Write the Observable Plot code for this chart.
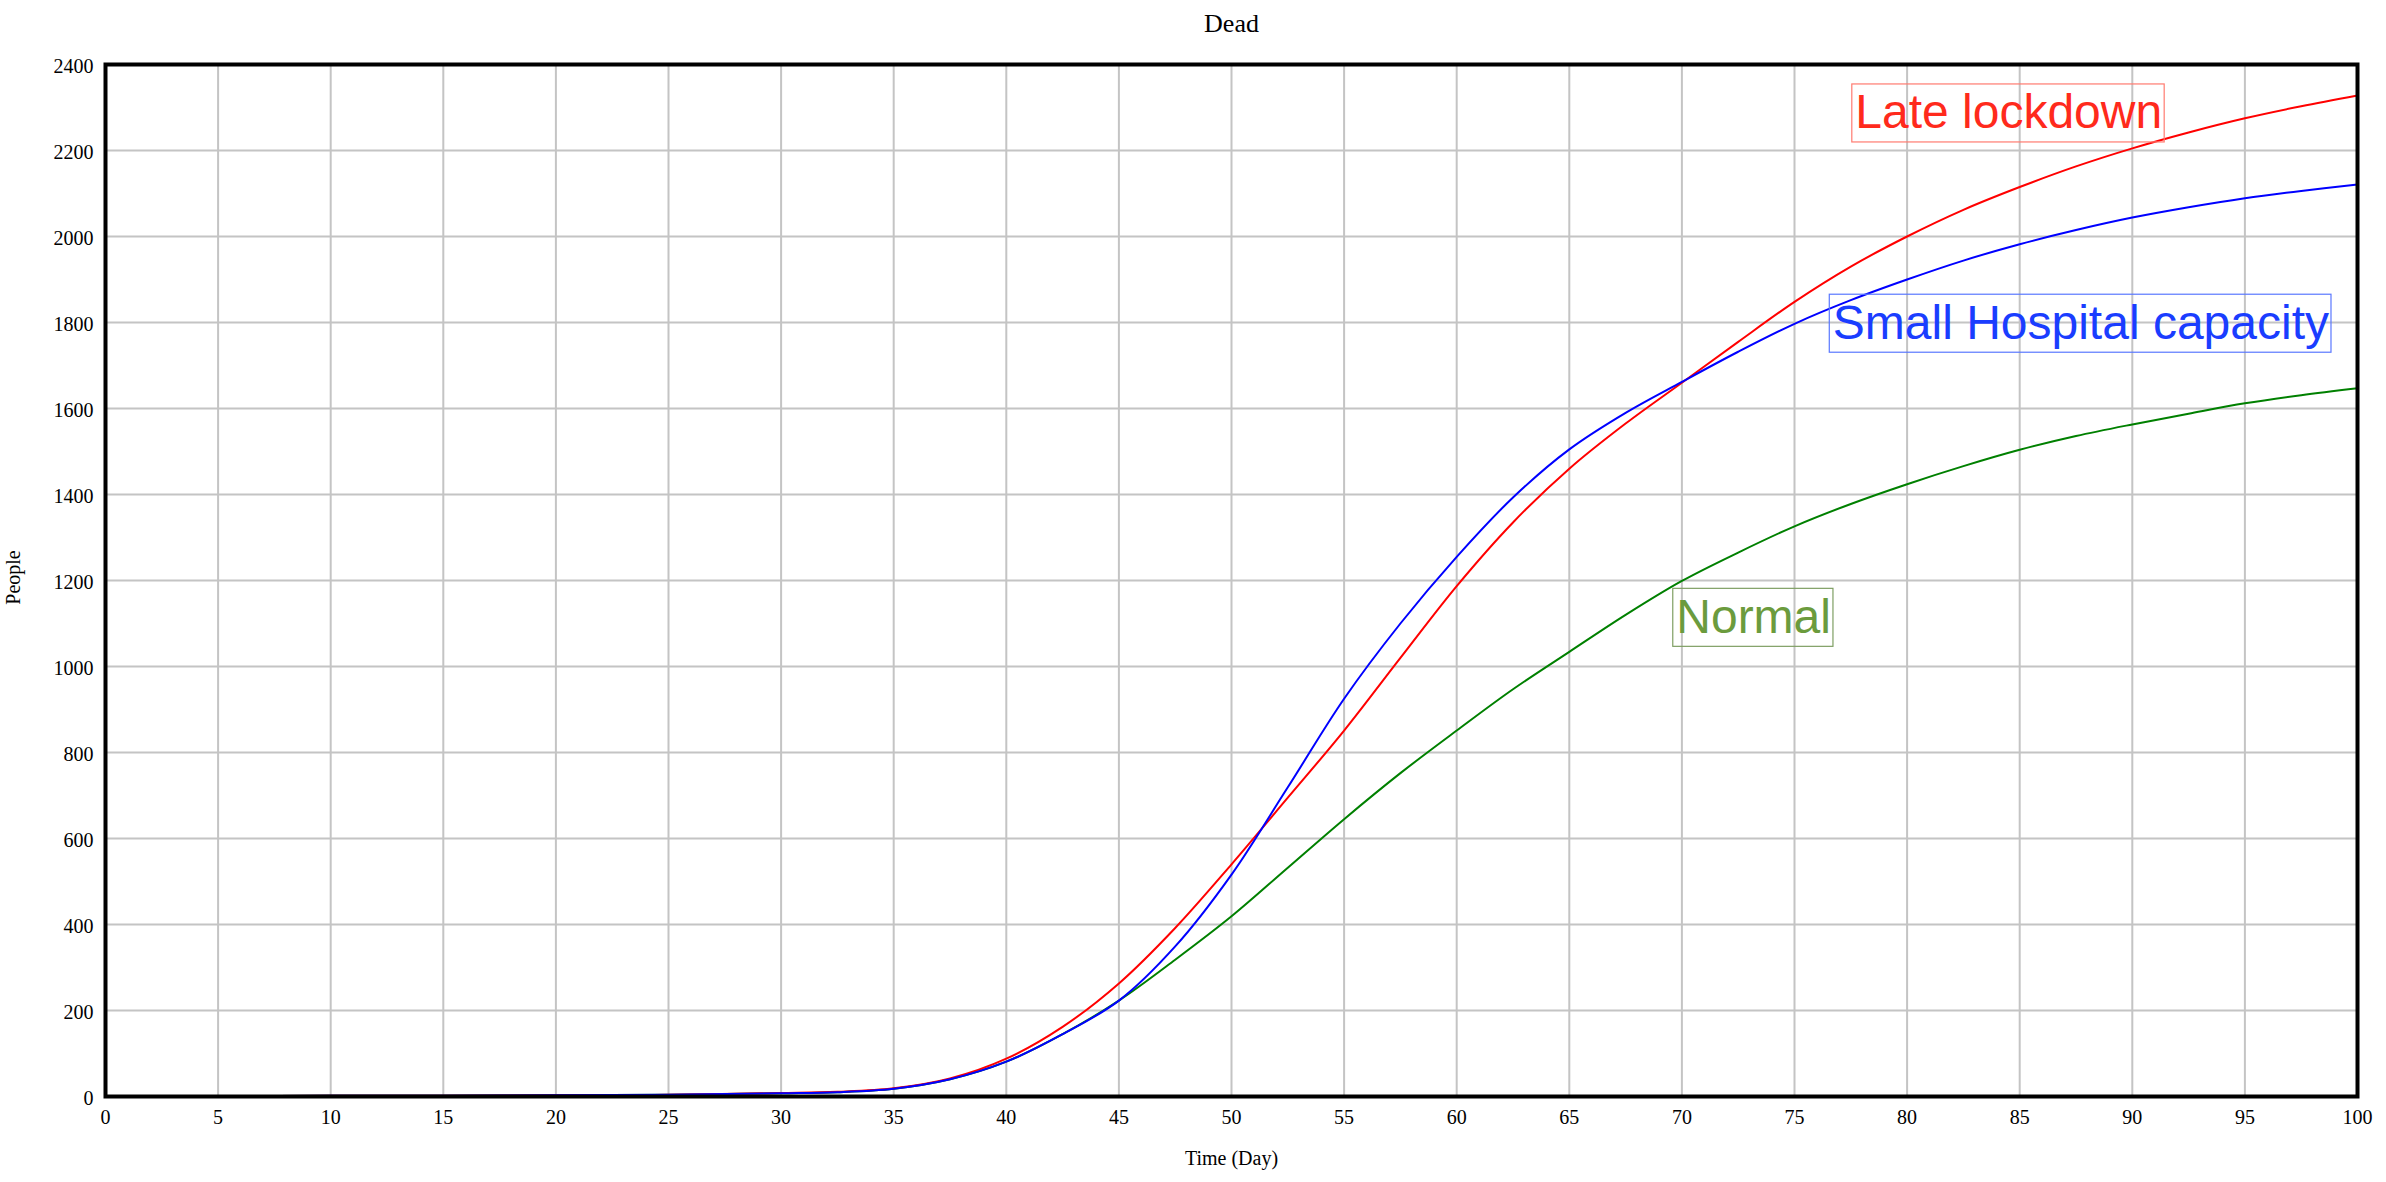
<!DOCTYPE html>
<html>
<head>
<meta charset="utf-8">
<script src="https://cdn.jsdelivr.net/npm/d3@7"></script>
<script src="https://cdn.jsdelivr.net/npm/@observablehq/plot@0.6"></script>
<style>
  html, body { margin: 0; padding: 0; background: #ffffff; }
  #chart { width: 2386px; height: 1182px; }
</style>
</head>
<body>
<div id="chart"></div>
<script>
// ---- data ----
const titleText = "Dead";
const xLabel = "Time (Day)";
const yLabel = "People";

const days = [0, 5, 10, 15, 20, 25, 30, 32.5, 35, 37.5, 40, 42.5, 45, 47.5, 50, 52.5, 55, 57.5, 60, 62.5, 65, 67.5, 70, 72.5, 75, 77.5, 80, 82.5, 85, 87.5, 90, 92.5, 95, 97.5, 100];
const lateLockdown = [1, 1, 1.5, 2, 3, 4, 8, 11, 19, 42, 88, 162, 263, 392, 540, 695, 851, 1020, 1187, 1335, 1460, 1565, 1660, 1755, 1848, 1930, 2000, 2062, 2115, 2163, 2205, 2242, 2275, 2303, 2328];
const smallHospital = [1, 1, 1.5, 2, 3, 4, 7.5, 10, 18, 40, 81, 145, 223, 349, 516, 719, 925, 1100, 1255, 1393, 1505, 1590, 1662, 1732, 1797, 1852, 1900, 1944, 1982, 2015, 2044, 2068, 2089, 2106, 2121];
const normal = [1, 1, 1.5, 2, 3, 4, 7.5, 10, 18, 40, 81, 145, 223, 318, 419, 532, 645, 752, 851, 947, 1034, 1120, 1199, 1265, 1326, 1378, 1424, 1466, 1504, 1536, 1563, 1588, 1612, 1631, 1647];

const xTicks = [0, 5, 10, 15, 20, 25, 30, 35, 40, 45, 50, 55, 60, 65, 70, 75, 80, 85, 90, 95, 100];
const yTicks = [0, 200, 400, 600, 800, 1000, 1200, 1400, 1600, 1800, 2000, 2200, 2400];

const seriesNames = ["Late lockdown", "Small Hospital capacity", "Normal"];
const labelDays = [77.7, 76.7, 69.75];
const labelValues = [2287, 1798, 1114];

// ---- styles ----
const lineColors = {"Late lockdown": "#ff0000", "Small Hospital capacity": "#0000ff", "Normal": "#008000"};
const labelColors = {"Late lockdown": "#ff2a1c", "Small Hospital capacity": "#1a3dff", "Normal": "#6b9b3d"};
const boxColors = {"Late lockdown": "#ff7b70", "Small Hospital capacity": "#5a78ff", "Normal": "#7f9f63"};
const drawOrder = ["Normal", "Late lockdown", "Small Hospital capacity"];

// ---- build tables ----
const valuesBySeries = {
  "Late lockdown": lateLockdown,
  "Small Hospital capacity": smallHospital,
  "Normal": normal
};
const rows = [];
for (const s of seriesNames) {
  days.forEach((d, i) => rows.push({series: s, day: d, value: valuesBySeries[s][i]}));
}
const labels = seriesNames.map((s, i) => ({series: s, day: labelDays[i], value: labelValues[i]}));

const serif = "'Liberation Serif', 'Times New Roman', Times, serif";
const sans = "'Liberation Sans', Arial, Helvetica, sans-serif";

const marks = [
  Plot.gridX(xTicks, {stroke: "#c4c4c4", strokeOpacity: 1, strokeWidth: 2}),
  Plot.gridY(yTicks, {stroke: "#c4c4c4", strokeOpacity: 1, strokeWidth: 2}),
  Plot.axisX(xTicks, {tickSize: 0, tickPadding: 13, fontSize: 20, label: null, fill: "black", tickFormat: d => String(d)}),
  Plot.axisY(yTicks, {tickSize: 0, tickPadding: 12, fontSize: 20, label: null, dy: 2, fill: "black", tickFormat: d => String(d)})
];
for (const s of drawOrder) {
  marks.push(Plot.line(rows.filter(r => r.series === s), {
    x: "day", y: "value", stroke: lineColors[s], strokeWidth: 2, curve: "catmull-rom"
  }));
}
for (const s of seriesNames) {
  marks.push(Plot.text(labels.filter(l => l.series === s), {
    x: "day", y: "value", text: "series", textAnchor: "start", lineAnchor: "middle",
    fill: labelColors[s], fontSize: 48, fontFamily: sans
  }));
}
marks.push(Plot.frame({stroke: "black", strokeWidth: 4}));
marks.push(Plot.text([titleText], {frameAnchor: "top", lineAnchor: "middle", textAnchor: "middle", dy: -40.6, fontSize: 26, fontFamily: serif, fill: "black"}));
marks.push(Plot.text([xLabel], {frameAnchor: "bottom", lineAnchor: "middle", textAnchor: "middle", dy: 61.6, fontSize: 20, fontFamily: serif, fill: "black"}));
marks.push(Plot.text([yLabel], {frameAnchor: "left", lineAnchor: "middle", textAnchor: "middle", dx: -92.4, dy: -3, rotate: -90, fontSize: 20, fontFamily: serif, fill: "black"}));

const svg = Plot.plot({
  width: 2386,
  height: 1182,
  marginLeft: 105,
  marginRight: 29,
  marginTop: 64,
  marginBottom: 86,
  style: {fontFamily: serif, fontSize: "20px", background: "#ffffff", color: "black", overflow: "visible"},
  x: {domain: [0, 100], ticks: xTicks},
  y: {domain: [0, 2400], ticks: yTicks},
  marks
});
document.getElementById("chart").appendChild(svg);

// ---- boxes around the series labels ----
svg.querySelectorAll("text").forEach(t => {
  const s = t.textContent.trim();
  if (!seriesNames.includes(s)) return;
  const b = t.getBBox();
  const r = document.createElementNS("http://www.w3.org/2000/svg", "rect");
  r.setAttribute("x", b.x - 3.5);
  r.setAttribute("y", b.y - 1.5);
  r.setAttribute("width", b.width + 5.5);
  r.setAttribute("height", b.height + 5);
  r.setAttribute("fill", "none");
  r.setAttribute("stroke", boxColors[s]);
  r.setAttribute("stroke-width", 1.2);
  const tr = t.getAttribute("transform");
  if (tr) r.setAttribute("transform", tr);
  t.parentNode.insertBefore(r, t);
});
</script>
</body>
</html>
